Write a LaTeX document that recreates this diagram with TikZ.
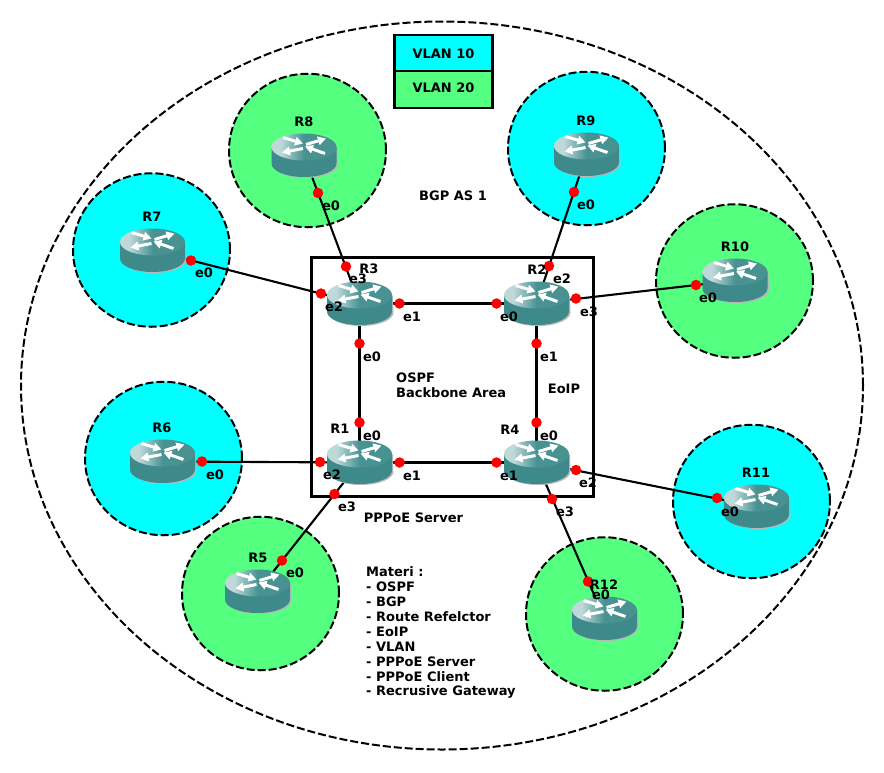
\documentclass[tikz,border=0pt]{standalone}
\usepackage{fontspec}
\setmainfont{DejaVu Sans}
\usetikzlibrary{arrows.meta,shapes.geometric}
\definecolor{areagreen}{RGB}{85,255,127}
\definecolor{areacyan}{RGB}{0,255,255}
\definecolor{teal1}{RGB}{62,138,138}
\definecolor{teal2}{RGB}{72,146,146}
\pgfdeclarehorizontalshading{routertop}{100bp}{color(0bp)=(teal2!35!white); color(32bp)=(teal2!35!white); color(50bp)=(teal2); color(100bp)=(teal2)}
\pgfdeclarelayer{bg}
\pgfdeclarelayer{edges}
\pgfsetlayers{bg,edges,main}
\tikzset{
  x=1pt,y=-1pt,
  zone/.style={draw=black,line width=2pt,dash pattern=on 8pt off 3pt},
  cyanzone/.style={zone,fill=areacyan},
  greenzone/.style={zone,fill=areagreen},
  link/.style={draw=black,line width=2.1pt},
  dot/.style={circle,fill=red,draw=none,minimum size=10.5pt,inner sep=0pt},
  lbl/.style={font=\bfseries\fontsize{13}{15}\selectfont,inner sep=0pt,text=black},
  routerbox/.style={minimum width=65pt,minimum height=44pt,inner sep=0pt},
  vlanbox/.style={draw=black,line width=2.1pt,minimum width=98pt,inner sep=0pt,font=\bfseries\fontsize{13}{15}\selectfont},
  rarrow/.style={draw=white,line width=3pt,-{Triangle[length=8pt,width=8.5pt]}}
}
\newcommand{\router}[3]{%
  \node[routerbox] (#1) at (#2,#3) {};
  \begin{scope}[shift={(#2,#3)}]
    \fill[gray!55] (-31,-8) -- (-31,9) arc[x radius=32.5,y radius=13.5,start angle=180,end angle=0] -- (33.5,-8) -- cycle;
    \fill[teal1] (-32.5,-9) -- (-32.5,8) arc[x radius=32.5,y radius=13.5,start angle=180,end angle=0] -- (32.5,-9) -- cycle;
    \shade[shading=routertop] (0,-8.5) ellipse[x radius=32.5,y radius=13.5];
    \draw[rarrow] (-21,-18) -- (-1,-12);
    \draw[rarrow] (2,-11) -- (22,-17);
    \draw[rarrow] (-1,-7) -- (-22,-3);
    \draw[rarrow] (21,-2) -- (1,-9);
  \end{scope}
}
\newcommand{\zonecirc}[4]{\node[#1,ellipse,minimum width=157pt,minimum height=153.5pt,inner sep=0pt] (#2) at (#3,#4) {};}
\begin{document}
\begin{tikzpicture}
\useasboundingbox (0,0) rectangle (884,772);
\begin{pgfonlayer}{bg}
  \fill[white] (0,0) rectangle (884,772);
  \node[zone,ellipse,minimum width=842pt,minimum height=728pt,inner sep=0pt] (world) at (442,385.5) {};
  \node[draw=black,line width=2.1pt,minimum width=282pt,minimum height=239pt,inner sep=0pt] (core) at (452.5,377) {};
  \zonecirc{greenzone}{Z8}{307.5}{150.5}
  \zonecirc{cyanzone}{Z9}{586.5}{148.5}
  \zonecirc{cyanzone}{Z7}{151.5}{250}
  \zonecirc{greenzone}{Z10}{734.5}{281}
  \zonecirc{cyanzone}{Z6}{163.5}{458.5}
  \zonecirc{cyanzone}{Z11}{751.5}{501.5}
  \zonecirc{greenzone}{Z5}{260.5}{593.5}
  \zonecirc{greenzone}{Z12}{604.5}{614}
\end{pgfonlayer}
\node[vlanbox,fill=areacyan,minimum height=36.5pt] (v10) at (443.5,53.5) {\raisebox{-2pt}{VLAN 10}};
\node[vlanbox,fill=areagreen,minimum height=37pt] (v20) at (443.5,89.5) {\raisebox{4pt}{VLAN 20}};
\router{R8}{304}{155.5}
\router{R9}{586.5}{154.5}
\router{R7}{152.5}{250.5}
\router{R10}{735}{280.5}
\router{R3}{359.5}{303.5}
\router{R2}{536.5}{303.5}
\router{R1}{359.5}{462.5}
\router{R4}{536.5}{462.5}
\router{R6}{162.5}{461.5}
\router{R11}{756.5}{506.5}
\router{R5}{257.5}{591.5}
\router{R12}{604.5}{618.5}
\begin{pgfonlayer}{edges}
  \draw[link] (R8.center) -- (R3.center);
  \draw[link] (R7.center) -- (R3.center);
  \draw[link] (R9.center) -- (R2.center);
  \draw[link] (R10.center) -- (R2.center);
  \draw[link] (R3.center) -- (R2.center);
  \draw[link] (R3.center) -- (R1.center);
  \draw[link] (R2.center) -- (R4.center);
  \draw[link] (R1.center) -- (R4.center);
  \draw[link] (R6.center) -- (R1.center);
  \draw[link] (R5.center) -- (R1.center);
  \draw[link] (R12.center) -- (R4.center);
  \draw[link] (R11.center) -- (R4.center);
\end{pgfonlayer}
% interface dots
\foreach \n/\x/\y in {a/346/266.5,b/321/293.5,c/399.5/303.5,d/359.5/343.5,e/549/266,f/576/298.5,g/496.5/303.5,h/536.5/343.5,i/359.5/422.5,j/320/462,k/399.5/462.5,l/334.5/494,m/536.5/422.5,n/496.5/462.5,o/576/470,p/552/499,q/191/260.5,r/318/193,s/574/192,t/696/285,u/202/461.5,v/282/560.5,w/588/581.5,z/717/498}
  \node[dot] (dot\n) at (\x,\y) {};
% labels
\foreach \n/\t/\x/\y in {l8/R8/304/121.7,l9/R9/586/120.7,l7/R7/152/216.7,l10/R10/735/246.7,l3/R3/369/268.7,l2/R2/537/269.7,l1/R1/340/428.7,l4/R4/510/429.7,l6/R6/162/427.7,l11/R11/756/472.7,l5/R5/258/557.7,l12/R12/604/584.7,
  e8/e0/331/205.7,e3c/e3/358/278.7,e3b/e2/334/306.7,e3a/e1/412/316.7,e30/e0/372/356.7,e9/e0/586/204.7,e2c/e2/562/278.7,e2d/e3/589/311.7,e20/e0/509/316.7,e21/e1/549/356.7,e7/e0/204/272.7,e10/e0/708/297.7,e6/e0/215/474.7,e1c/e2/332/474.7,e1a/e1/412/475.7,e10b/e0/372/435.7,e40/e0/549/435.7,e41/e1/509/475.7,e42/e2/588/482.7,e43/e3/565/511.7,e11/e0/730/511.7,e12/e0/601/594.7,e5/e0/295/572.7,e1d/e3/347/506.7,
  bgp/BGP AS 1/453/195.7,eoip/EoIP/564/388.7,pppoe/PPPoE Server/413.5/517.7}
  \node[lbl] (\n) at (\x,\y) {\t};
\node[lbl,anchor=north west,align=left,font=\bfseries\fontsize{13}{15}\selectfont] (ospf) at (396,372.7) {OSPF\\Backbone Area};
\node[lbl,anchor=north west,align=left,font=\bfseries\fontsize{13}{14.9}\selectfont] (materi) at (366,566.7) {Materi :\\- OSPF\\- BGP\\- Route Refelctor\\- EoIP\\- VLAN\\- PPPoE Server\\- PPPoE Client\\- Recrusive Gateway};
\end{tikzpicture}
\end{document}
